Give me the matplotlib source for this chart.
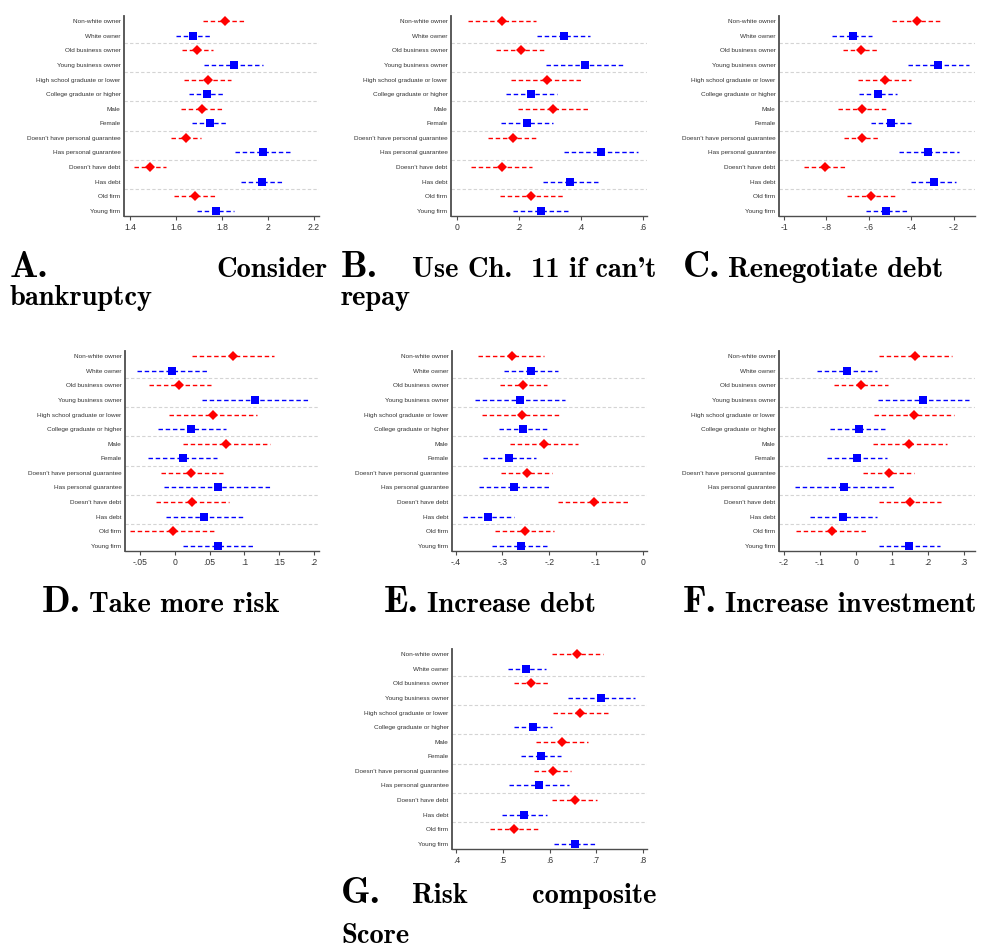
import numpy as np
import matplotlib
matplotlib.use("Agg")
import matplotlib.pyplot as plt

W, H = 983, 948
fig = plt.figure(figsize=(W / 100, H / 100), dpi=100)

categories = ["Non-white owner", "White owner", "Old business owner", "Young business owner",
              "High school graduate or lower", "College graduate or higher", "Male", "Female",
              "Doesn't have personal guarantee", "Has personal guarantee", "Doesn't have debt",
              "Has debt", "Old firm", "Young firm"]

# A. Consider bankruptcy
a_est = [1.814, 1.674, 1.694, 1.853, 1.738, 1.734, 1.714, 1.748, 1.644, 1.980, 1.488, 1.975, 1.683, 1.773]
a_lo = [1.720, 1.599, 1.628, 1.724, 1.635, 1.659, 1.621, 1.670, 1.577, 1.857, 1.417, 1.883, 1.592, 1.694]
a_hi = [1.907, 1.749, 1.760, 1.981, 1.841, 1.808, 1.808, 1.825, 1.711, 2.103, 1.559, 2.066, 1.775, 1.853]
a_ticks = [1.4, 1.6, 1.8, 2.0, 2.2]
a_ticklabels = ["1.4", "1.6", "1.8", "2", "2.2"]

# B. Use Ch. 11 if can't repay
b_est = [0.146, 0.345, 0.207, 0.413, 0.291, 0.241, 0.310, 0.226, 0.181, 0.464, 0.145, 0.366, 0.241, 0.271]
b_lo = [0.038, 0.259, 0.128, 0.288, 0.175, 0.158, 0.198, 0.142, 0.100, 0.345, 0.047, 0.277, 0.139, 0.182]
b_hi = [0.255, 0.430, 0.288, 0.540, 0.406, 0.325, 0.423, 0.311, 0.263, 0.585, 0.243, 0.459, 0.345, 0.360]
b_ticks = [0, 0.2, 0.4, 0.6]
b_ticklabels = ["0", ".2", ".4", ".6"]

# C. Renegotiate debt
c_est = [-0.374, -0.677, -0.639, -0.274, -0.526, -0.556, -0.631, -0.495, -0.631, -0.321, -0.807, -0.293, -0.589, -0.518]
c_lo = [-0.490, -0.773, -0.722, -0.418, -0.650, -0.647, -0.746, -0.592, -0.716, -0.460, -0.906, -0.401, -0.702, -0.612]
c_hi = [-0.256, -0.586, -0.555, -0.128, -0.402, -0.467, -0.515, -0.401, -0.547, -0.175, -0.707, -0.192, -0.473, -0.421]
c_ticks = [-1.0, -0.8, -0.6, -0.4, -0.2]
c_ticklabels = ["-1", "-.8", "-.6", "-.4", "-.2"]

# D. Take more risk
d_est = [0.0836, -0.0036, 0.0065, 0.1157, 0.0553, 0.0237, 0.0735, 0.0113, 0.0237, 0.0625, 0.0252, 0.0424, -0.003, 0.062]
d_lo = [0.0241, -0.0553, -0.038, 0.0386, -0.0079, -0.0251, 0.0113, -0.0395, -0.0203, -0.016, -0.028, -0.0136, -0.0653, 0.0122]
d_hi = [0.1425, 0.0476, 0.052, 0.194, 0.118, 0.073, 0.1367, 0.0601, 0.0692, 0.1405, 0.0783, 0.0999, 0.0587, 0.1118]
d_ticks = [-0.05, 0, 0.05, 0.1, 0.15, 0.2]
d_ticklabels = ["-.05", "0", ".05", ".1", ".15", ".2"]

# E. Increase debt
e_est = [-0.2805, -0.2383, -0.2555, -0.2619, -0.259, -0.2555, -0.2118, -0.2855, -0.2476, -0.2748, -0.1045, -0.3299, -0.2526, -0.2597]
e_lo = [-0.3513, -0.2962, -0.3048, -0.3585, -0.3442, -0.3083, -0.2848, -0.3413, -0.3027, -0.3506, -0.1803, -0.3835, -0.3163, -0.322]
e_hi = [-0.2104, -0.1817, -0.2054, -0.1653, -0.1739, -0.2039, -0.1374, -0.229, -0.1939, -0.1975, -0.0279, -0.2762, -0.1889, -0.1996]
e_ticks = [-0.4, -0.3, -0.2, -0.1, 0]
e_ticklabels = ["-.4", "-.3", "-.2", "-.1", "0"]

# F. Increase investment
f_est = [0.1639, -0.0259, 0.0139, 0.187, 0.162, 0.0074, 0.1481, 0.0037, 0.0907, -0.0324, 0.150, -0.0352, -0.0676, 0.1481]
f_lo = [0.063, -0.1074, -0.0602, 0.0611, 0.0509, -0.0731, 0.0463, -0.0796, 0.0185, -0.1685, 0.063, -0.1278, -0.1657, 0.0648]
f_hi = [0.2667, 0.0574, 0.088, 0.3148, 0.2731, 0.0852, 0.2528, 0.0852, 0.162, 0.1046, 0.237, 0.0593, 0.0296, 0.2333]
f_ticks = [-0.2, -0.1, 0, 0.1, 0.2, 0.3]
f_ticklabels = ["-.2", "-.1", "0", ".1", ".2", ".3"]

# G. Risk composite Score
g_est = [0.660, 0.550, 0.561, 0.710, 0.666, 0.565, 0.627, 0.582, 0.607, 0.577, 0.654, 0.546, 0.523, 0.654]
g_lo = [0.605, 0.510, 0.523, 0.639, 0.608, 0.524, 0.572, 0.539, 0.567, 0.512, 0.606, 0.497, 0.473, 0.610]
g_hi = [0.716, 0.592, 0.600, 0.783, 0.725, 0.606, 0.682, 0.624, 0.647, 0.641, 0.701, 0.594, 0.575, 0.699]
g_ticks = [0.4, 0.5, 0.6, 0.7, 0.8]
g_ticklabels = [".4", ".5", ".6", ".7", ".8"]

RED = "#ff0000"
BLUE = "#0000ff"
AXC = "#4d4d4d"
TICKFONT = "Liberation Sans"

panels = [
    (a_est, a_lo, a_hi, a_ticks, a_ticklabels, (1.374, 2.223), (124, 16, 319, 216)),
    (b_est, b_lo, b_hi, b_ticks, b_ticklabels, (-0.0184, 0.614), (451, 16, 647, 216)),
    (c_est, c_lo, c_hi, c_ticks, c_ticklabels, (-1.0235, -0.101), (779, 16, 975, 216)),
    (d_est, d_lo, d_hi, d_ticks, d_ticklabels, (-0.072, 0.2076), (125, 351, 319, 551)),
    (e_est, e_lo, e_hi, e_ticks, e_ticklabels, (-0.408, 0.0094), (452, 351, 647, 551)),
    (f_est, f_lo, f_hi, f_ticks, f_ticklabels, (-0.2139, 0.3306), (779, 351, 975, 551)),
    (g_est, g_lo, g_hi, g_ticks, g_ticklabels, (0.3905, 0.8095), (452, 649, 647, 849)),
]

for est, lo, hi, ticks, tlabels, xlim, box in panels:
    l, t, r, b = box
    ax = fig.add_axes([l / W, 1 - b / H, (r - l) / W, (b - t) / H])
    n = len(categories)
    for k in range(1, n // 2):
        ax.axhline(2 * k - 0.5, color="#d4d4d4", lw=0.8, ls=(0, (3, 2)), zorder=0)
    for i in range(n):
        col = RED if i % 2 == 0 else BLUE
        mk = "D" if i % 2 == 0 else "s"
        ms = 5.4
        eb = ax.errorbar(est[i], i, xerr=[[est[i] - lo[i]], [hi[i] - est[i]]], fmt=mk, color=col,
                         ms=ms, mec=col, mew=0, capsize=1.9, elinewidth=1.0, capthick=1.0, zorder=3)
        eb[2][0].set_linestyle((0, (3.2, 2.0)))
    ax.set_ylim(n - 1 + 0.37, -0.37)
    ax.set_xlim(*xlim)
    ax.set_yticks(range(n))
    ax.set_yticklabels(categories, fontsize=4.6, color="#333333", family=TICKFONT)
    ax.tick_params(axis="y", length=0, pad=2.5)
    ax.set_xticks(ticks)
    ax.set_xticklabels(tlabels, fontsize=6.2, color="#333333", family=TICKFONT)
    ax.tick_params(axis="x", length=3, width=0.8, color=AXC, pad=2)
    for s in ["top", "right"]:
        ax.spines[s].set_visible(False)
    ax.spines["left"].set_color(AXC)
    ax.spines["left"].set_linewidth(1.3)
    ax.spines["bottom"].set_color(AXC)
    ax.spines["bottom"].set_linewidth(1.0)
    ax.set_facecolor("white")

TF = "cmb10"
LET = 27
TXT = 20.5

renderer = fig.canvas.get_renderer()


def put(txt, x, y, size, ha="left"):
    return fig.text(x / W, 1 - y / H, txt, fontsize=size, family=TF, ha=ha, va="baseline", color="black")


def letter_then(letter, rest, x, y, gap=8):
    t = put(letter, x, y, LET)
    x1 = t.get_window_extent(renderer).x1
    put(rest, x1 + gap, y, TXT)


# justified two-line titles
put("A.", 10, 277, LET)
put("Consider", 328, 277, TXT, "right")
put("bankruptcy", 10, 305, TXT)

put("B.", 341, 277, LET)
put("Use Ch.  11 if can't", 656, 277, TXT, "right")
put("repay", 341, 305, TXT)

letter_then("C.", "Renegotiate debt", 683, 277)
letter_then("D.", "Take more risk", 42, 612)
letter_then("E.", "Increase debt", 384, 612)
letter_then("F.", "Increase investment", 683, 612)

put("G.", 341, 903, LET)
put("Risk", 412, 903, TXT)
put("composite", 656, 903, TXT, "right")
put("Score", 341, 943, TXT)

fig.savefig("out.png", dpi=100, facecolor="white")
